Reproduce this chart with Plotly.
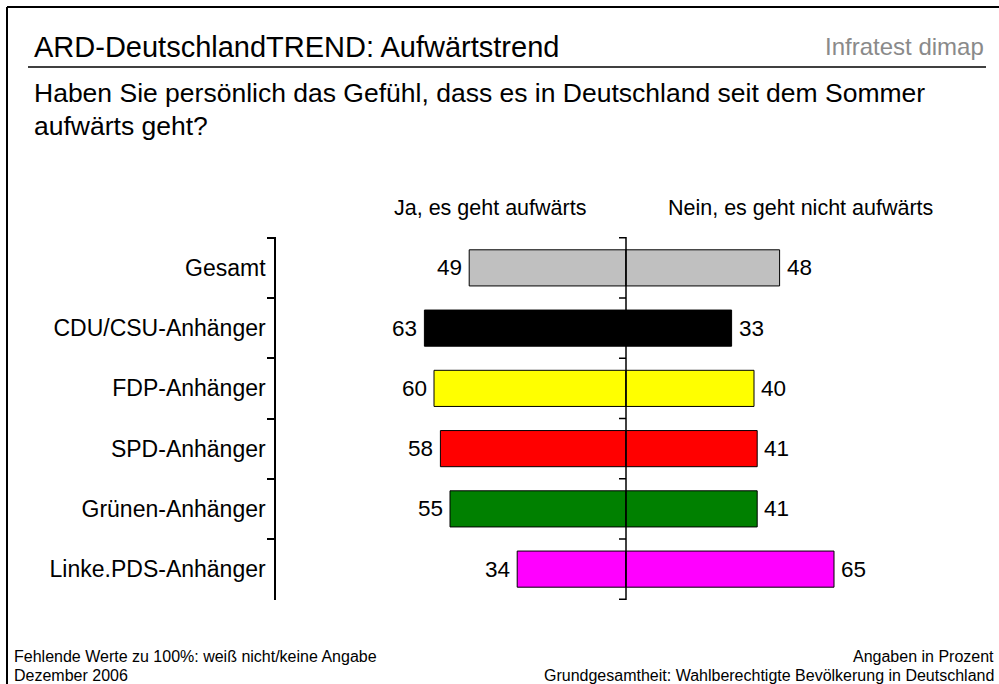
import plotly.graph_objects as go

categories = ["Gesamt", "CDU/CSU-Anhänger", "FDP-Anhänger", "SPD-Anhänger", "Grünen-Anhänger", "Linke.PDS-Anhänger"]
ja = [49, 63, 60, 58, 55, 34]
nein = [48, 33, 40, 41, 41, 65]
colors = ["#c0c0c0", "#000000", "#ffff00", "#ff0000", "#008000", "#ff00ff"]

W, H = 999, 684
FONT = "Liberation Sans, Arial, sans-serif"

# plot area in pixels
px_left, px_right = 276, 966
px_top, px_bottom = 237, 600
unit = 3.2  # pixels per percent
center = 626
x_min = -(center - px_left) / unit
x_max = (px_right - center) / unit


def px(x):
    return x / W


def py(y):
    return 1 - y / H


def label(x, y, text, size, anchor="left", color="black"):
    return dict(x=px(x), y=py(y), xref="paper", yref="paper", text=text, showarrow=False,
                xanchor=anchor, yanchor="middle", font=dict(size=size, family=FONT, color=color))


fig = go.Figure()
fig.add_trace(go.Bar(
    y=categories, x=[-v for v in ja], orientation="h", width=0.6,
    marker=dict(color=colors, line=dict(color="black", width=1)),
    hoverinfo="skip", showlegend=False,
))
fig.add_trace(go.Bar(
    y=categories, x=nein, orientation="h", width=0.6,
    marker=dict(color=colors, line=dict(color="black", width=1)),
    hoverinfo="skip", showlegend=False,
))

annotations = []
for cat, a, b in zip(categories, ja, nein):
    annotations.append(dict(x=-a, y=cat, xref="x", yref="y", text=str(a), showarrow=False,
                            xanchor="right", xshift=-5, font=dict(size=22.5, color="black", family=FONT)))
    annotations.append(dict(x=b, y=cat, xref="x", yref="y", text=str(b), showarrow=False,
                            xanchor="left", xshift=5, font=dict(size=22.5, color="black", family=FONT)))

annotations += [
    label(32, 47, "ARD-DeutschlandTREND: Aufwärtstrend", 29),
    label(986, 47, "Infratest dimap", 24, "right", "#8a8a8a"),
    label(32, 93, "Haben Sie persönlich das Gefühl, dass es in Deutschland seit dem Sommer", 26.5),
    label(32, 126, "aufwärts geht?", 26.5),
    label(490, 208, "Ja, es geht aufwärts", 21.5, "center"),
    label(800, 208, "Nein, es geht nicht aufwärts", 21.5, "center"),
    label(12, 656, "Fehlende Werte zu 100%: weiß nicht/keine Angabe", 16),
    label(12, 675, "Dezember 2006", 16),
    label(996, 656, "Angaben in Prozent", 16, "right"),
    label(996, 675, "Grundgesamtheit: Wahlberechtigte Bevölkerung in Deutschland", 16, "right"),
]

shapes = [
    # frame
    dict(type="line", xref="paper", yref="paper", x0=px(7), x1=1, y0=py(7), y1=py(7), line=dict(color="black", width=2)),
    dict(type="line", xref="paper", yref="paper", x0=px(7), x1=px(7), y0=py(7), y1=0, line=dict(color="black", width=2)),
    # header rule
    dict(type="line", xref="paper", yref="paper", x0=px(28), x1=px(986), y0=py(67), y1=py(67), line=dict(color="black", width=1.5)),
    # center axis
    dict(type="line", xref="x", yref="paper", x0=0, x1=0, y0=py(px_bottom), y1=py(px_top), line=dict(color="black", width=1.5)),
]
for i in range(len(categories) + 1):
    shapes.append(dict(type="line", xref="x", yref="y", x0=-7 / unit, x1=0, y0=i - 0.5, y1=i - 0.5,
                       line=dict(color="black", width=1.5)))

fig.update_layout(
    width=W, height=H,
    margin=dict(l=0, r=0, t=0, b=0),
    paper_bgcolor="white", plot_bgcolor="white",
    barmode="relative", bargap=0.4,
    font=dict(family=FONT, color="black"),
    xaxis=dict(domain=[px(px_left), px(px_right)], range=[x_min, x_max], visible=False, fixedrange=True),
    yaxis=dict(domain=[py(px_bottom), py(px_top)], autorange="reversed", showline=True, linecolor="black",
               linewidth=1.5, ticks="outside", ticklen=7, tickwidth=1.5, tickcolor="black", tickson="boundaries",
               showgrid=False, tickfont=dict(size=23, family=FONT, color="black"), ticklabelstandoff=4,
               fixedrange=True),
    annotations=annotations,
    shapes=shapes,
)

fig.write_html("out.html", config={"displayModeBar": False},
               post_script="document.body.style.margin='0';")
